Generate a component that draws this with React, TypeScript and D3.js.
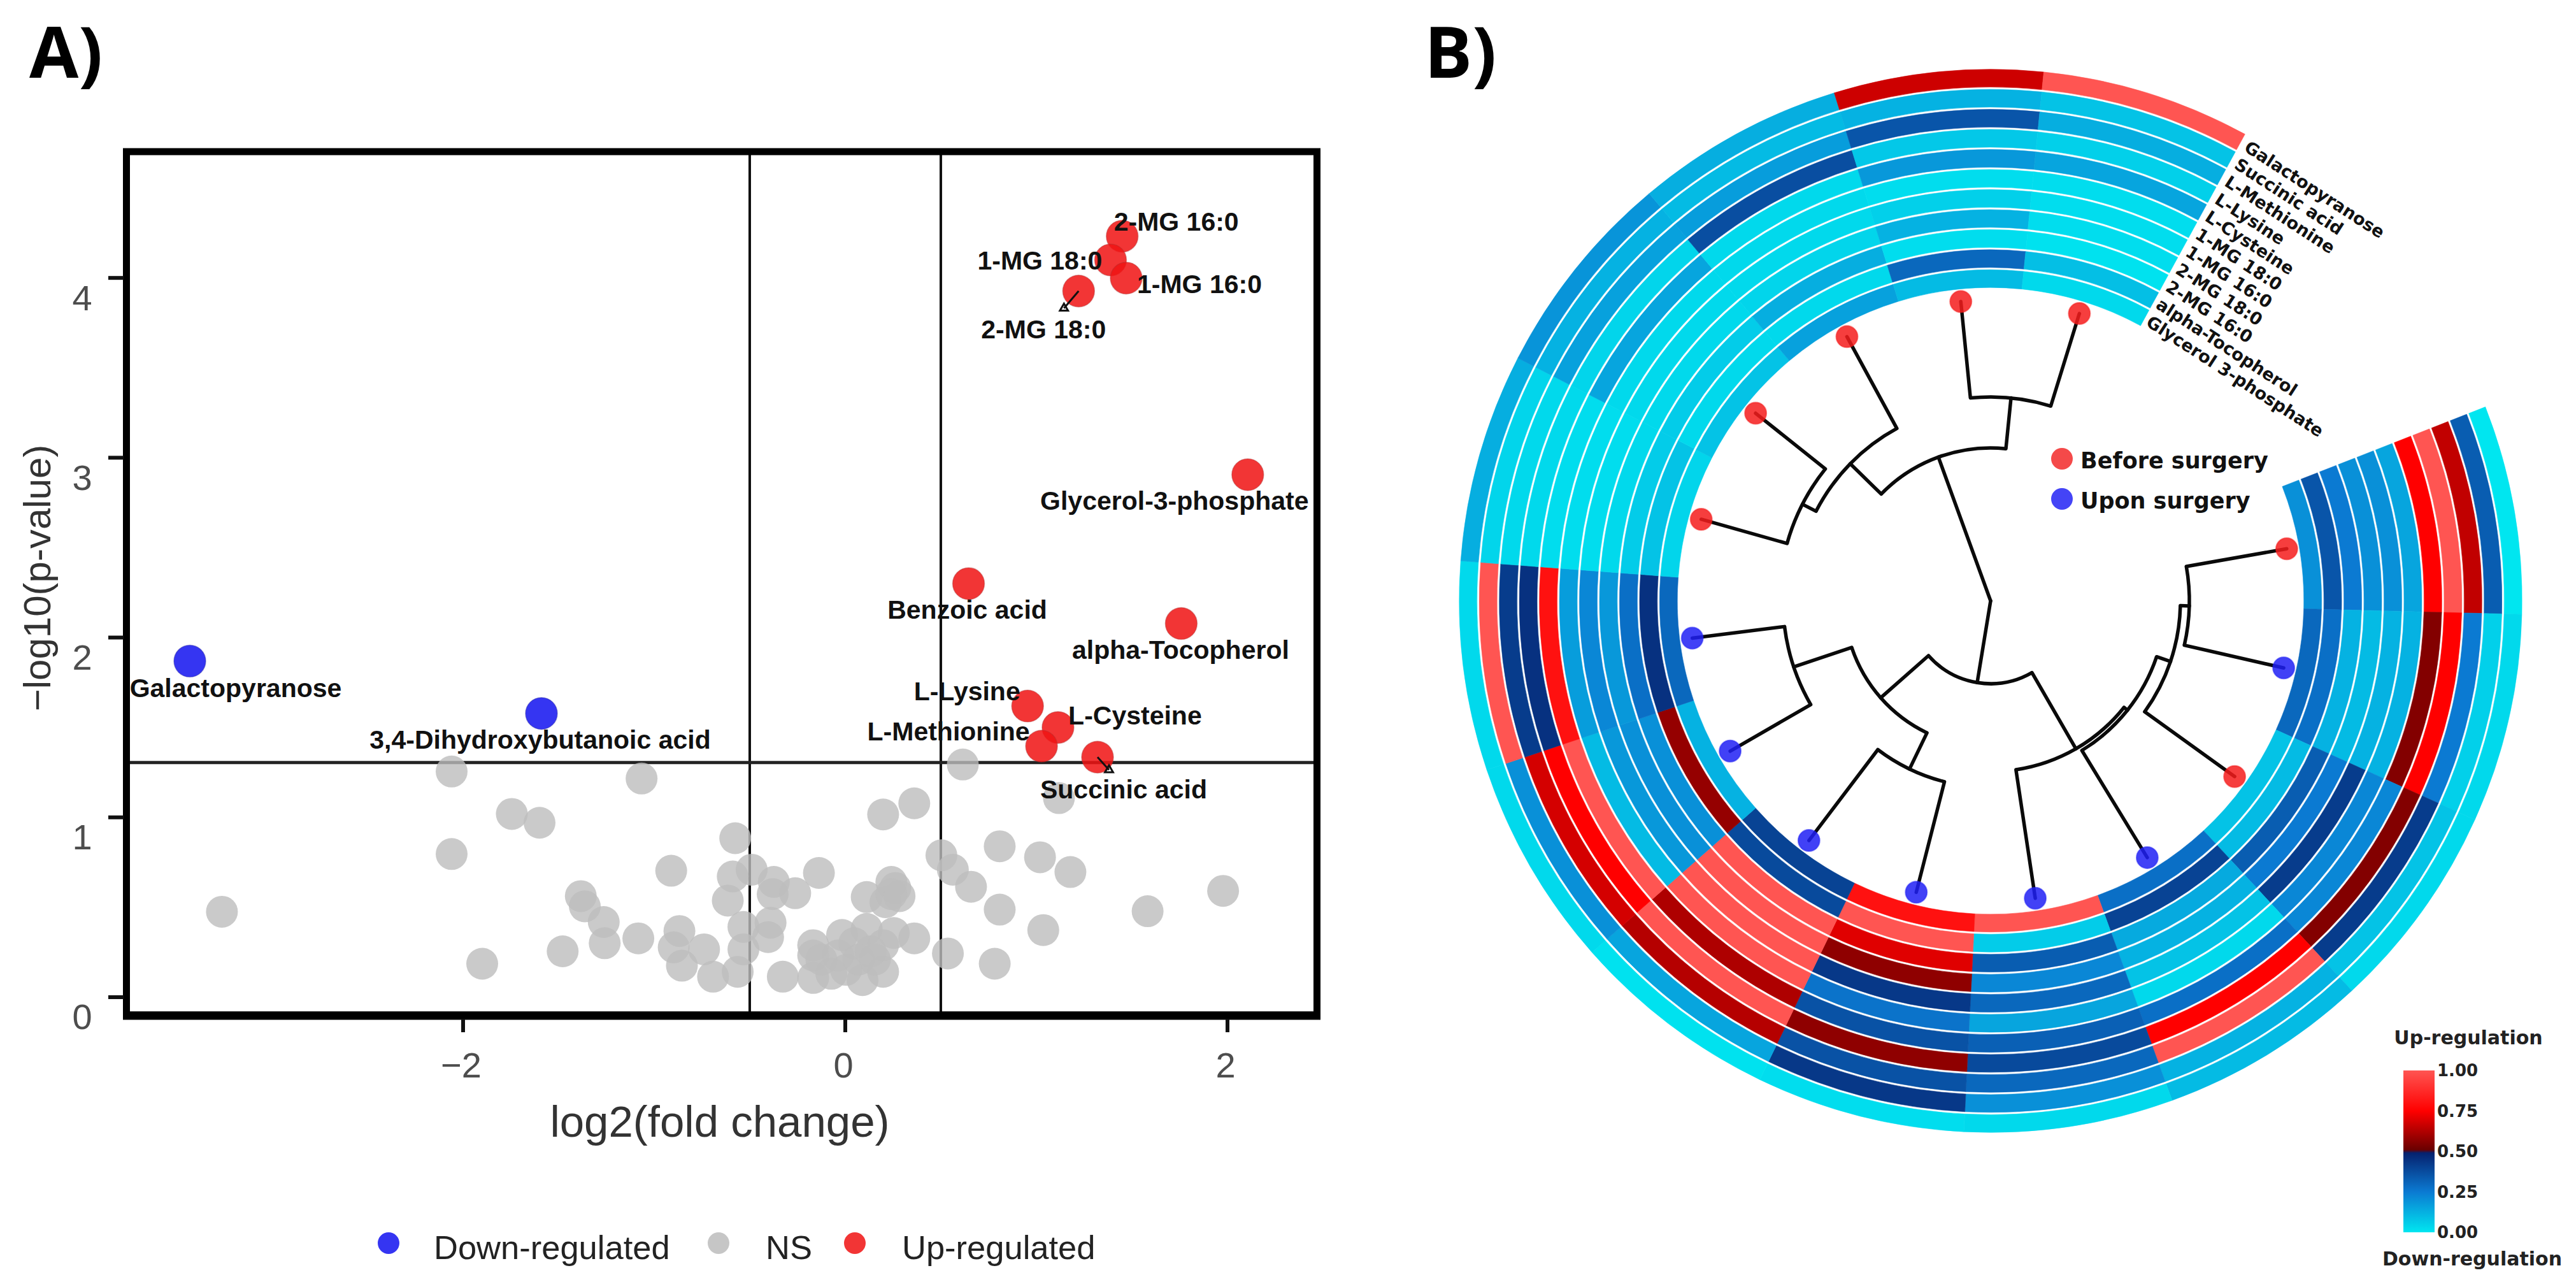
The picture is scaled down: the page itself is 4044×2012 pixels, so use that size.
import React from "react";
import * as d3 from "d3";

// ---------- Panel A data ----------
const greyX = [-2.06,-1.066,-1.745,-1.6,-2.06,-0.576,-0.911,-0.589,-0.49,-0.615,-0.374,-0.38,-0.262,-0.138,0.112,0.241,0.262,0.241,0.21,0.284,0.198,0.361,0.615,1.118,0.503,0.563,0.658,0.808,1.019,1.178,0.808,1.036,1.582,1.977,0.537,0.782,-3.262,-1.9,-1.479,-1.384,-1.363,-1.264,-1.259,-1.083,-0.868,-0.898,-0.739,-0.855,-0.692,-0.563,-0.533,-0.533,-0.391,-0.404,-0.327,-0.168,-0.168,-0.168,-0.073,-0.017,0.047,0.112,0.133,0.198,0.254,0.361,0.198,0.09,0.004,-0.125,-0.039,0.069,0.155];
const greyY = [1.255,1.216,1.019,0.97,0.796,0.884,0.703,0.671,0.709,0.537,0.641,0.573,0.578,0.691,0.557,0.641,0.607,0.573,0.528,0.562,1.016,1.078,1.294,1.107,0.789,0.709,0.614,0.839,0.778,0.696,0.487,0.373,0.478,0.591,0.243,0.186,0.475,0.186,0.255,0.562,0.505,0.418,0.3,0.327,0.368,0.277,0.266,0.175,0.114,0.141,0.266,0.391,0.414,0.334,0.114,0.289,0.232,0.107,0.13,0.346,0.3,0.38,0.255,0.289,0.357,0.327,0.141,0.095,0.152,0.209,0.232,0.209,0.209];

const namedLabels = ["2-MG 16:0","1-MG 18:0","1-MG 16:0","2-MG 18:0","Glycerol-3-phosphate","Benzoic acid","alpha-Tocopherol","L-Lysine","L-Cysteine","L-Methionine","Succinic acid","Galactopyranose","3,4-Dihydroxybutanoic acid"];
const namedX = [1.449,1.388,1.47,1.221,2.106,0.645,1.758,0.954,1.113,1.027,1.32,-3.43,-1.59];
const namedY = [4.232,4.10,3.999,3.927,2.906,2.30,2.078,1.619,1.50,1.396,1.335,1.869,1.578];
const namedDir = ["up","up","up","up","up","up","up","up","up","up","up","down","down"];
const labelDx = [85,-111,115,-55,-115,-2,-1,-95,121,-146,41,72,-2];
const labelDy = [-23,1,10,60,41,41,41,-23,-19,-23,51,42,41];

const xTicks = [-2,0,2];
const yTicks = [0,1,2,3,4];
const vCuts = [-0.5,0.5];
const hCut = 1.305;
const legendA = ["Down-regulated","NS","Up-regulated"];

// ---------- Panel B data ----------
const metabolites = ["Galactopyranose","Succinic acid","L-Methionine","L-Lysine","L-Cysteine","1-MG 18:0","1-MG 16:0","2-MG 18:0","2-MG 16:0","alpha-Tocopherol","Glycerol 3-phosphate"];
// one list per sample, clockwise from the gap; each runs outer ring -> inner ring
const s0 = [0.0,0.33,0.65,1.0,0.75,0.15,0.2,0.2,0.25,0.35,0.2];
const s1 = [0.03,0.05,0.25,0.75,0.55,0.12,0.12,0.1,0.12,0.28,0.3];
const s2 = [0.03,0.08,0.42,0.55,0.22,0.22,0.42,0.25,0.33,0.1,0.08];
const s3 = [0.1,0.12,1.0,0.75,0.28,0.03,0.08,0.12,0.14,0.4,0.28];
const s4 = [0.03,0.2,0.3,0.38,0.32,0.15,0.3,0.22,0.33,0.06,1.0];
const s5 = [0.02,0.43,0.36,0.57,0.36,0.27,0.43,0.57,0.7,1.0,0.8];
const s6 = [0.01,0.15,0.63,1.0,0.62,1,1,1,1,0.38,0.4];
const s7 = [0.03,0.2,0.68,0.75,1.0,0.1,0.18,0.2,0.2,0.58,0.12];
const s8 = [0.03,1.0,0.42,0.45,0.8,0.17,0.22,0.18,0.28,0.45,0.3];
const s9 = [0.13,0.04,0.03,0.03,0.02,0.02,0.02,0.03,0.06,0.08,0.04];
const s10 = [0.19,0.12,0.16,0.04,0.15,0.03,0.03,0.03,0.06,0.03,0.08];
const s11 = [0.13,0.1,0.17,0.37,0.03,0.03,0.03,0.04,0.13,0.03,0.16];
const s12 = [0.67,0.12,0.35,0.07,0.18,0.02,0.05,0.12,0.02,0.3,0.1];
const s13 = [1.0,0.08,0.13,0.05,0.15,0.02,0.02,0.02,0.01,0.09,0.03];
const samples = [s0,s1,s2,s3,s4,s5,s6,s7,s8,s9,s10,s11,s12,s13];
const sampleGroup = ["Before","Upon","Before","Upon","Upon","Upon","Upon","Upon","Upon","Before","Before","Before","Before","Before"];

type T = { r: number; children?: T[]; leaf?: number };
const lf = (leaf: number): T => ({ r: 472, leaf });
const tree: T = { r: 0, children: [
  { r: 130, children: [
    { r: 268, children: [
      { r: 275, children: [
        { r: 298, children: [ { r: 312, children: [lf(0), lf(1)] }, lf(2) ] },
        lf(3),
      ] },
      lf(4),
    ] },
    { r: 230, children: [
      { r: 293, children: [lf(5), lf(6)] },
      { r: 326, children: [lf(7), lf(8)] },
    ] },
  ] },
  { r: 240, children: [
    { r: 308, children: [ { r: 332, children: [lf(9), lf(10)] }, lf(11) ] },
    { r: 320, children: [lf(12), lf(13)] },
  ] },
] };

const colorStops = [0,0.25,0.49,0.51,0.75,1];
const colorRange = ["#00e6f0","#0b7ad2","#06226f","#6a0000","#ff0000","#ff5552"];
const cbTicks = [1,0.75,0.5,0.25,0];

// ---------- layout ----------
const W = 4044, H = 2012;
const x = d3.scaleLinear().domain([-3.77,2.47]).range([196,2068]);
const y = d3.scaleLinear().domain([-0.1,4.71]).range([1593.2,235.8]);
const CX = 3125, CY = 943, R_OUT = 836, R_IN = 490;
const GAP_END = 68.6 * Math.PI / 180;
const SWEEP = (320 / samples.length) * Math.PI / 180;
const ringW = (R_OUT - R_IN) / metabolites.length;
const color = d3.scaleLinear<string>().domain(colorStops).range(colorRange);
const arc = d3.arc();
const SANS = "'Liberation Sans', Arial, sans-serif";
const DEJA = "'DejaVu Sans', sans-serif";

const root = d3.hierarchy<T>(tree);
const angleOf = new Map<any, number>();
root.eachAfter((n: any) => {
  if (n.data.leaf !== undefined) angleOf.set(n, GAP_END + SWEEP * (n.data.leaf + 0.5));
  else angleOf.set(n, d3.mean(n.children as any[], (c: any) => angleOf.get(c)) as number);
});

const cbY = d3.scaleLinear().domain([0,1]).range([1934,1680]);

export default function App() {
  const pt = (a: number, r: number) => d3.pointRadial(a, r);
  const nodes = root.descendants() as any[];
  return (
    <svg width={W} height={H} viewBox={`0 0 ${W} ${H}`} style={{ position: "absolute", left: 0, top: 0, background: "#fff" }}>
      <defs>
        <linearGradient id="cb" x1="0" y1="1" x2="0" y2="0">
          {colorStops.map((s, i) => <stop key={i} offset={s} stopColor={colorRange[i]} />)}
        </linearGradient>
      </defs>

      {/* Panel labels */}
      <text x={46} y={122} fontFamily="'Open Sans', sans-serif" fontWeight={700} fontSize={112} fill="#000">A)</text>
      <text x={2236} y={122} fontFamily="'Open Sans', sans-serif" fontWeight={700} fontSize={112} fill="#000">B)</text>

      {/* Panel A */}
      <g>
        {vCuts.map(v => <line key={v} x1={x(v)} x2={x(v)} y1={y.range()[1]} y2={y.range()[0]} stroke="#111" strokeWidth={4} />)}
        <line x1={x.range()[0]} x2={x.range()[1]} y1={y(hCut)} y2={y(hCut)} stroke="#222" strokeWidth={5} />
        {greyX.map((v, i) => <circle key={i} cx={x(v)} cy={y(greyY[i])} r={25} fill="#bdbdbd" fillOpacity={0.8} />)}
        {namedX.map((v, i) => (
          <circle key={i} cx={x(v)} cy={y(namedY[i])} r={25}
            fill={namedDir[i] === "up" ? "#f01414" : "#1414f0"} fillOpacity={0.86}
            stroke={namedDir[i] === "up" ? "#b03030" : "#2020a0"} strokeOpacity={0.4} strokeWidth={1.5} />
        ))}
        <rect x={198.5} y={238} width={1869} height={1355} fill="none" stroke="#000" strokeWidth={11} />
        <line x1={193} x2={2073} y1={1594} y2={1594} stroke="#000" strokeWidth={13} />
        {yTicks.map(t => (
          <g key={t}>
            <line x1={170} x2={194} y1={y(t)} y2={y(t)} stroke="#111" strokeWidth={6} />
            <text x={129} y={y(t) + 31} textAnchor="middle" dominantBaseline="central" fontFamily={SANS} fontSize={56} fill="#4d4d4d">{t}</text>
          </g>
        ))}
        {xTicks.map(t => (
          <g key={t}>
            <line x1={x(t)} x2={x(t)} y1={1599} y2={1620} stroke="#111" strokeWidth={6} />
            <text x={x(t) - 3} y={1671} textAnchor="middle" dominantBaseline="central" fontFamily={SANS} fontSize={56} fill="#4d4d4d">{t < 0 ? "\u2212" + Math.abs(t) : t}</text>
          </g>
        ))}
        <text x={1130} y={1760} textAnchor="middle" dominantBaseline="central" fontFamily={SANS} fontSize={69} fill="#333">log2(fold change)</text>
        <text transform="translate(58,907) rotate(-90)" textAnchor="middle" dominantBaseline="central" fontFamily={SANS} fontSize={60} fill="#333">{"\u2212log10(p-value)"}</text>
        {namedLabels.map((s, i) => (
          <text key={s} x={x(namedX[i]) + labelDx[i]} y={y(namedY[i]) + labelDy[i]} textAnchor="middle" dominantBaseline="central"
            fontFamily={SANS} fontWeight={700} fontSize={41} fill="#111">{s}</text>
        ))}
        {[[3, -23, 27], [10, 18, 20]].map(([i, dx, dy]) => {
          const px = x(namedX[i]), py = y(namedY[i]);
          const tx = px + dx, ty = py + dy;
          return (
            <g key={i}>
              <line x1={px} y1={py} x2={tx} y2={ty} stroke="#111" strokeWidth={3} />
              <path d={d3.symbol().type(d3.symbolTriangle).size(70)() as string} transform={`translate(${tx},${ty})`} fill="none" stroke="#111" strokeWidth={3} />
            </g>
          );
        })}
        {legendA.map((s, i) => {
          const cx = [610,1128,1342][i], tx = [681,1202,1416][i];
          const c = ["#1414f0","#bdbdbd","#f01414"][i];
          return (
            <g key={s}>
              <circle cx={cx} cy={1951} r={17} fill={c} fillOpacity={0.86} />
              <text x={tx} y={1957} dominantBaseline="central" fontFamily={SANS} fontSize={52.5} fill="#222">{s}</text>
            </g>
          );
        })}
      </g>

      {/* Panel B */}
      <g transform={`translate(${CX},${CY})`}>
        {samples.map((vals, si) => vals.map((v, ri) => {
          const outer = R_OUT - ri * ringW;
          const d = arc({
            innerRadius: outer - ringW + 1.8, outerRadius: outer - 1.8,
            startAngle: GAP_END + SWEEP * si, endAngle: GAP_END + SWEEP * (si + 1),
          } as any) as string;
          return <path key={`${si}-${ri}`} d={d} fill={color(v)} stroke={color(v)} strokeWidth={0.6} />;
        }))}

        {nodes.filter(n => n.children && n.depth > 0).map((n, i) => {
          const as = n.children.map((c: any) => angleOf.get(c));
          const a0 = Math.min(...as), a1 = Math.max(...as);
          const d = arc({ innerRadius: n.data.r, outerRadius: n.data.r, startAngle: a0, endAngle: a1 } as any) as string;
          return <path key={i} d={d} fill="none" stroke="#0a0a0a" strokeWidth={5.5} />;
        })}
        {nodes.filter(n => n.parent).map((n, i) => {
          const a = angleOf.get(n) as number;
          const [x0, y0] = pt(a, n.parent.data.r);
          const [x1, y1] = pt(a, n.data.r);
          return <line key={i} x1={x0} y1={y0} x2={x1} y2={y1} stroke="#0a0a0a" strokeWidth={5.5} strokeLinecap="round" />;
        })}
        {nodes.filter(n => n.data.leaf !== undefined).map((n, i) => {
          const [px, py] = pt(angleOf.get(n) as number, n.data.r);
          const c = sampleGroup[n.data.leaf] === "Before" ? "#f51c1c" : "#2020f5";
          return <circle key={i} cx={px} cy={py} r={17} fill={c} fillOpacity={0.85} stroke={c} strokeOpacity={0.5} strokeWidth={2} />;
        })}
        {metabolites.map((m, ri) => {
          const [px, py] = pt(GAP_END - (39.3 * Math.PI) / 180, R_OUT - (ri + 0.5) * ringW);
          return (
            <text key={m} transform={`translate(${px},${py}) rotate(33)`} dominantBaseline="central"
              fontFamily={DEJA} fontWeight={700} fontSize={27} fill="#111">{m}</text>
          );
        })}
      </g>

      {/* Panel B legend */}
      {["Before surgery","Upon surgery"].map((s, i) => (
        <g key={s}>
          <circle cx={3237} cy={720 + i * 63} r={17} fill={i ? "#2a2af5" : "#f23030"} fillOpacity={0.88} />
          <text x={3266} y={723 + i * 63} dominantBaseline="central" fontFamily={DEJA} fontWeight={700} fontSize={35} fill="#111">{s}</text>
        </g>
      ))}

      {/* Colour bar */}
      <text x={3875} y={1628} textAnchor="middle" dominantBaseline="central" fontFamily={DEJA} fontWeight={700} fontSize={30} fill="#222">Up-regulation</text>
      <rect x={3773} y={cbY(1)} width={49} height={cbY(0) - cbY(1)} fill="url(#cb)" />
      {cbTicks.map(t => (
        <text key={t} x={3826} y={cbY(t)} dominantBaseline="central" fontFamily={DEJA} fontWeight={700} fontSize={26} fill="#222">{t.toFixed(2)}</text>
      ))}
      <text x={3881} y={1975} textAnchor="middle" dominantBaseline="central" fontFamily={DEJA} fontWeight={700} fontSize={30} fill="#222">Down-regulation</text>
    </svg>
  );
}
